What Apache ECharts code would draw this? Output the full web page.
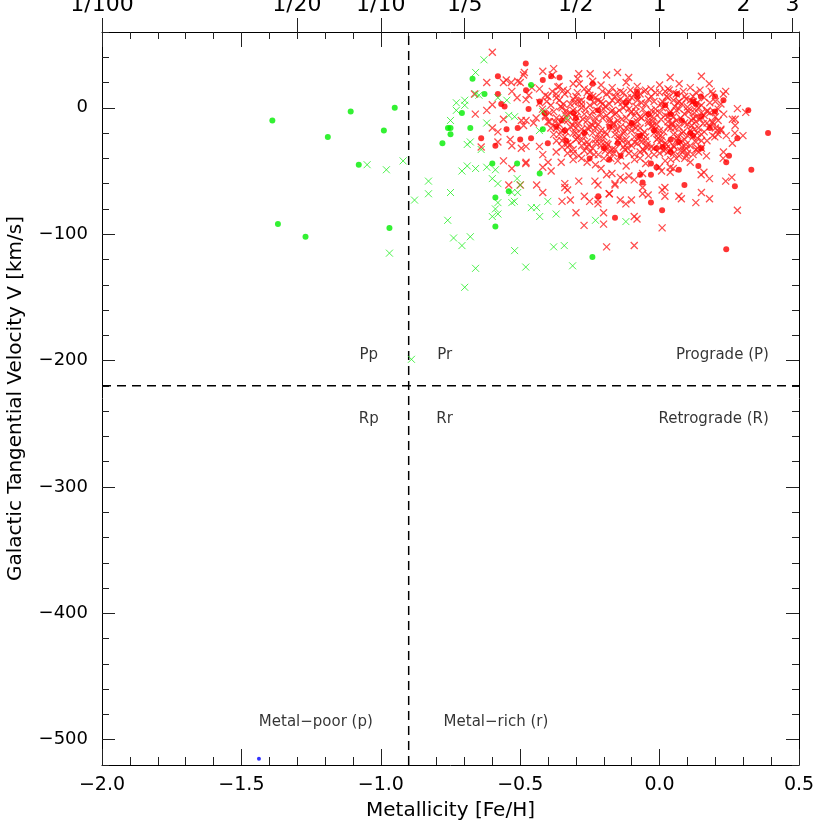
<!DOCTYPE html>
<html><head><meta charset="utf-8">
<script src="https://cdn.jsdelivr.net/npm/echarts@6/dist/echarts.min.js"></script>
<style>html,body{margin:0;padding:0;background:#fff}#c{width:830px;height:830px}</style>
</head><body><div id="c"></div>
<script>
// ---------- data ----------
const xMin = -2.0, xMax = 0.5;
const yMin = -520, yMax = 60;
const yMajorTicks = [-500, -400, -300, -200, -100, 0];
const topFractions = [0.01, 0.05, 0.1, 0.2, 0.5, 1, 2, 3];
const topLabels = ['1/100', '1/20', '1/10', '1/5', '1/2', '1', '2', '3'];
const divideFeH = -0.9;
const divideV = -220;

const greenDots = [
  [-1.389,-10],[-1.108,-3],[-0.950,0],[-1.190,-23],[-0.989,-18],[-1.079,-45],[-1.369,-92],[-1.270,-102],[-0.969,-95],
  [-0.671,23],[-0.628,11],[-0.709,-4],[-0.759,-16],[-0.750,-16],[-0.750,-21],[-0.679,-16],[-0.779,-28],[-0.461,18],
  [-0.419,-17],[-0.600,-44],[-0.511,-44],[-0.430,-52],[-0.541,-66],[-0.589,-71],[-0.589,-94],[-0.241,-118]
];
const greenCrosses = [
  [-1.049,-45],[-0.980,-49],[-0.920,-42],[-0.829,-58],[-0.829,-68],[-0.879,-73],[-0.760,-89],[-0.969,-115],[-0.890,-199],
  [-0.630,38],[-0.660,28],[-0.729,4],[-0.699,6],[-0.699,2],[-0.729,-2],[-0.750,-10],[-0.660,11],[-0.648,10],[-0.580,8],
  [-0.548,6],[-0.620,-12],[-0.541,-6],[-0.520,-7],[-0.419,-3],[-0.333,-8],[-0.431,-18],[-0.679,-27],[-0.690,-29],[-0.640,-33],
  [-0.709,-50],[-0.690,-46],[-0.660,-48],[-0.620,-47],[-0.589,-49],[-0.600,-56],[-0.580,-60],[-0.511,-56],[-0.500,-61],
  [-0.530,-67],[-0.509,-67],[-0.750,-67],[-0.580,-75],[-0.530,-75],[-0.521,-74],[-0.589,-80],[-0.580,-84],[-0.600,-86],
  [-0.460,-79],[-0.441,-79],[-0.401,-74],[-0.371,-84],[-0.430,-86],[-0.739,-103],[-0.709,-109],[-0.679,-102],[-0.520,-113],
  [-0.380,-110],[-0.342,-109],[-0.660,-127],[-0.480,-126],[-0.312,-125],[-0.699,-142],[-0.230,-89],[-0.121,-90]
];
const redDots = [
  [-0.480,35],[-0.580,25],[-0.389,25],[-0.359,24],[-0.419,22],[-0.240,19],[-0.479,14],[-0.580,11],[-0.568,3],[-0.556,1],
  [-0.430,5],[-0.470,-1],[-0.413,-4],[-0.509,-16],[-0.549,-17],[-0.640,-24],[-0.589,-30],[-0.461,-24],[-0.500,-25],[-0.401,-28],
  [-0.351,-10],[-0.371,-15],[-0.335,-26],[-0.309,-4],[-0.081,13],[0.064,11],[0.120,5],[0.148,9],[0.199,9],[0.229,6],
  [0.199,-3],[0.150,-7],[0.318,-2],[0.389,-20],[0.279,-24],[0.249,-38],[0.239,-43],[-0.031,-44],[0.010,-31],[0.040,-5],
  [0.070,-27],[0.150,-32],[0.120,-22],[0.180,-16],[-0.011,-32],[-0.011,-47],[0.139,-46],[0.069,-49],[0.329,-49],[0.270,-62],
  [-0.061,-59],[-0.031,-53],[-0.070,-53],[0.089,-61],[-0.031,-75],[0.009,-81],[-0.160,-87],[0.239,-112],[-0.220,-70],[-0.251,-40],
  [-0.181,-41],[0.039,-35],
  [-0.30,-8],[-0.27,-20],[-0.22,-2],[-0.18,-15],[-0.15,-28],[-0.12,4],[-0.10,-12],[-0.07,-22],[-0.04,-5],[-0.02,-18],
  [0.02,2],[0.04,-25],[0.08,-10],[-0.25,8],[-0.20,-32],[-0.08,9],[0.11,-20],[-0.34,-18],[0.13,3],[-0.14,-38]
];
const redCrosses = [
  // outskirts
  [-0.600,44],[-0.620,20],[-0.560,20],[-0.550,22],[-0.532,20],[-0.509,21],[-0.500,20],[-0.485,28],[-0.488,26],[-0.419,29],
  [-0.380,31],[-0.385,26],[-0.290,27],[-0.249,27],[-0.664,11],[-0.600,2.5],[-0.530,13],[-0.511,8],[-0.479,6.5],[-0.469,10],
  [-0.458,16],[-0.431,15],[-0.401,9],[-0.365,16.5],[-0.371,11],[-0.294,23],[-0.288,19],[-0.661,-5],[-0.620,-2],[-0.560,-9],
  [-0.496,-10],[-0.479,-10],[-0.488,-14],[-0.443,-8],[-0.452,-12],[-0.409,-7],[-0.395,-11],[-0.600,-16],[-0.580,-19],[-0.536,-25],
  [-0.580,-27],[-0.640,-31],[-0.530,-30],[-0.496,-32],[-0.479,-30.5],[-0.431,-30.5],[-0.419,-37],[-0.479,-43],[-0.371,-35],[-0.353,-43],
  [-0.190,26],[-0.151,28],[-0.111,24],[0.038,24],[0.150,25],[0.178,19],[-0.031,15],[0.237,13],[0.229,11],[0.279,-0.6],
  [0.261,-9],[0.271,-9],[0.271,-14],[0.207,-18],[0.219,-18],[0.270,-20],[0.299,-22],[0.239,-22],[0.309,-3.6],[0.261,-28],
  [0.229,-35],[0.228,-40],[0.168,-38],[0.198,-23],[0.189,-11],[0.171,-2],[0.100,0.6],[0.130,-7],[0.156,-12.5],[0.096,-38],
  [0.136,-32],[0.076,-34],[0.052,-31],
  [0.179,-56],[0.150,-67],[0.130,-75],[0.069,-70],[0.078,-72],[0.019,-63],[0.019,-70],[0.009,-65],[-0.041,-69],[-0.061,-68],
  [-0.061,-63],[-0.101,-73],[-0.141,-73],[-0.121,-76],[-0.201,-83],[-0.201,-92],[-0.091,-86],[-0.081,-88],[0.009,-95],[-0.190,-110],
  [-0.091,-109],[0.279,-81],[0.237,-58],[0.259,-55],[0.159,-51],[0.149,-53],[0.038,-51],[0.049,-48],[0.038,-47],[0.007,-50],
  [-0.001,-47],[-0.110,-54],[-0.130,-57],[-0.141,-55],[-0.181,-68],[-0.160,-61],[-0.160,-60],[-0.171,-52],[-0.190,-53],[-0.210,-48],
  [-0.091,-57],[-0.061,-52],
  [-0.560,-42],[-0.530,-48],[-0.480,-44],[-0.541,-61],[-0.500,-61],[-0.441,-61],[-0.419,-47],[-0.400,-43],[-0.389,-50],[-0.419,-67],
  [-0.350,-74],[-0.320,-73],[-0.340,-60],[-0.340,-63],[-0.330,-65],[-0.290,-58],[-0.270,-70],[-0.251,-74],[-0.232,-58],[-0.221,-61],
  [-0.221,-73],[-0.221,-76],[-0.180,-68],[-0.271,-93],[-0.300,-83],[0.179,-72],
  // core
  [-0.36,17],[-0.31,19],[-0.27,15],[-0.21,18],[-0.17,16],[-0.12,20],[-0.08,17],[-0.05,14],[0.00,18],[0.03,15],[0.07,19],[0.11,16],
  [-0.24,21],[-0.14,13],[0.05,12],[-0.33,13],
  [-0.41,10],[-0.37,8],[-0.34,11],[-0.30,9],[-0.26,12],[-0.23,8],[-0.19,11],[-0.16,9],[-0.13,12],[-0.10,8],[-0.07,11],[-0.03,9],
  [0.00,12],[0.03,8],[0.06,11],[0.09,9],[0.13,12],[0.16,8],[0.19,11],[-0.28,6],[-0.21,5],[-0.11,5],[0.01,5],[0.11,6],
  [-0.43,4],[-0.39,2],[-0.36,6],[-0.32,3],[-0.29,5],[-0.25,2],[-0.22,6],[-0.18,3],[-0.15,5],[-0.12,2],[-0.08,6],[-0.05,3],
  [-0.02,5],[0.02,2],[0.05,6],[0.08,3],[0.12,5],[0.15,2],[0.18,4],[0.22,3],
  [-0.42,-1],[-0.38,-3],[-0.35,0],[-0.31,-2],[-0.28,0],[-0.24,-3],[-0.20,-1],[-0.17,-2],[-0.13,0],[-0.10,-3],[-0.06,-1],[-0.03,-2],
  [0.01,0],[0.04,-3],[0.07,-1],[0.10,-2],[0.14,0],[0.17,-3],[0.21,-1],
  [-0.41,-6],[-0.37,-8],[-0.34,-5],[-0.30,-7],[-0.27,-5],[-0.23,-8],[-0.19,-6],[-0.16,-5],[-0.12,-8],[-0.09,-6],[-0.05,-5],[-0.02,-8],
  [0.02,-6],[0.05,-7],[0.09,-5],[0.12,-8],[0.16,-6],[0.20,-7],[0.23,-5],
  [-0.40,-11],[-0.36,-13],[-0.33,-10],[-0.29,-12],[-0.26,-10],[-0.22,-13],[-0.18,-11],[-0.15,-10],[-0.11,-13],[-0.08,-11],[-0.04,-10],
  [-0.01,-13],[0.03,-11],[0.06,-10],[0.10,-13],[0.13,-11],[0.17,-12],[0.21,-10],
  [-0.39,-16],[-0.35,-18],[-0.32,-15],[-0.28,-17],[-0.25,-15],[-0.21,-18],[-0.17,-16],[-0.14,-15],[-0.10,-18],[-0.07,-16],[-0.03,-15],
  [0.00,-18],[0.04,-16],[0.07,-15],[0.11,-18],[0.14,-16],[0.18,-15],[0.22,-17],
  [-0.38,-21],[-0.34,-23],[-0.31,-20],[-0.27,-22],[-0.24,-20],[-0.20,-23],[-0.16,-21],[-0.13,-20],[-0.09,-23],[-0.06,-21],[-0.02,-20],
  [0.01,-23],[0.05,-21],[0.08,-20],[0.12,-23],[0.15,-21],[0.19,-22],
  [-0.37,-26],[-0.33,-28],[-0.30,-25],[-0.26,-27],[-0.23,-25],[-0.19,-28],[-0.15,-26],[-0.12,-25],[-0.08,-28],[-0.05,-26],[-0.01,-25],
  [0.02,-28],[0.06,-26],[0.09,-25],[0.13,-27],[0.17,-26],
  [-0.35,-31],[-0.31,-33],[-0.28,-30],[-0.24,-32],[-0.21,-30],[-0.17,-33],[-0.13,-31],[-0.10,-30],[-0.06,-33],[-0.03,-31],[0.01,-30],
  [0.04,-33],[0.08,-31],[0.11,-30],[0.15,-32],
  [-0.33,-36],[-0.29,-38],[-0.25,-35],[-0.22,-37],[-0.18,-35],[-0.14,-38],[-0.11,-36],[-0.07,-35],[-0.04,-38],[0.00,-36],[0.03,-35],
  [0.07,-38],[0.10,-36],[0.14,-35],
  [-0.31,-41],[-0.26,-43],[-0.20,-40],[-0.15,-42],[-0.09,-41],[-0.05,-44],[0.02,-42],[0.06,-40],[0.11,-43],[-0.23,-45],[-0.12,-46],
  // densest centre
  [-0.31,7],[-0.24,9],[-0.17,6],[-0.115,8],[-0.04,7],[0.025,9],[0.095,7],
  [-0.355,1],[-0.265,-1],[-0.195,1],[-0.145,-2],[-0.085,1],[-0.015,-1],[0.055,1],[0.125,-1],
  [-0.32,-4],[-0.25,-6],[-0.175,-3],[-0.105,-4],[-0.035,-6],[0.035,-4],[0.105,-3],[0.18,-4],
  [-0.345,-9],[-0.275,-9],[-0.205,-8],[-0.135,-9],[-0.065,-8],[0.005,-9],[0.075,-8],[0.145,-9],
  [-0.31,-14],[-0.24,-14],[-0.165,-13],[-0.095,-14],[-0.025,-14],[0.045,-13],[0.115,-14],
  [-0.335,-19],[-0.265,-19],[-0.195,-19],[-0.125,-19],[-0.055,-19],[0.015,-19],[0.085,-19],[0.16,-19],
  [-0.295,-24],[-0.215,-24],[-0.145,-24],[-0.075,-24],[-0.005,-24],[0.065,-24],[0.135,-24],
  [-0.32,-29],[-0.255,-29],[-0.185,-29],[-0.115,-28],[-0.045,-29],[0.025,-29],[0.095,-29],
  [-0.27,-34],[-0.195,-34],[-0.125,-33],[-0.055,-34],[0.015,-34],[0.085,-34],
  [-0.385,13],[-0.345,14],[-0.295,12],[-0.255,14],[-0.205,13],[-0.155,12],[-0.105,14],[-0.055,13],[-0.015,12],[0.035,14],[0.085,13],
  [0.145,14],[0.185,13],
  [-0.405,5],[-0.345,3],[-0.305,4],[-0.235,4],[-0.205,3],[-0.135,4],[-0.065,4],[0.005,3],[0.065,4],[0.135,4],[0.20,5],
  [-0.395,-4],[-0.335,-2],[-0.295,-3],[-0.225,-2],[-0.155,-4],[-0.085,-3],[-0.015,-4],[0.06,-2],[0.125,-4],[0.195,-3],
  [-0.375,-11],[-0.305,-11],[-0.235,-11],[-0.165,-12],[-0.095,-12],[-0.025,-11],[0.045,-12],[0.115,-10],[0.19,-12],
  [-0.37,-16],[-0.30,-16],[-0.23,-16],[-0.155,-17],[-0.085,-16],[-0.015,-17],[0.055,-16],[0.125,-17],[0.20,-16],
  [-0.36,-21],[-0.29,-22],[-0.22,-21],[-0.145,-22],[-0.075,-22],[-0.005,-21],[0.065,-22],[0.135,-20],[0.21,-21],
  [-0.35,-26],[-0.28,-26],[-0.21,-27],[-0.135,-26],[-0.065,-27],[0.005,-26],[0.075,-27],[0.15,-26],
  [-0.33,-31],[-0.26,-31],[-0.19,-31],[-0.115,-32],[-0.045,-31],[0.025,-32],[0.095,-32],[0.13,-33],
  [-0.31,-36],[-0.235,-37],[-0.165,-36],[-0.09,-37],[-0.02,-37],[0.05,-36],[0.12,-37],
  [-0.28,-40],[-0.175,-40],[-0.07,-40],[0.04,-41],[0.09,-40],
  [-0.28,3],[-0.21,-5],[-0.14,7],[-0.07,-7],[0.00,-4],[0.07,5],[-0.26,-16],[-0.19,-21],[-0.12,-16],[-0.05,-23],
  [0.03,-15],[0.10,-22],[-0.23,-28],[-0.16,-33],[-0.09,-27],[-0.02,-32],[0.05,-30],[-0.30,-20],[-0.33,-5],[-0.18,-9],
  [-0.11,-1],[-0.04,-12],[0.03,-7],[0.09,-12],[0.15,-4],[-0.25,10],[-0.18,12],[-0.09,11],[0.02,13],[0.12,9]
];
const blueDots = [[-1.437,-515]];

const annotationTexts = ['Pp','Pr','Prograde (P)','Rp','Rr','Retrograde (R)','Metal\u2212poor (p)','Metal\u2212rich (r)'];
const annotationX = [-1.043,-0.771,0.392,-1.043,-0.771,0.392,-1.233,-0.587];
const annotationY = [-196,-196,-196,-246,-246,-246,-486,-486];
const annotationAlign = ['center','center','right','center','center','right','center','center'];

// ---------- chart ----------
const FONT = 'DejaVu Sans';
const INK = '#000';
const TICK = '#222';
const crossPath = 'path://M0,0L10,10M10,0L0,10';
const minus = s => String(s).replace('-', '\u2212');
const topVals = topFractions.map(f => Math.log10(f));
const topFmt = v => {
  let best = 0;
  topVals.forEach((t, i) => { if (Math.abs(t - v) < Math.abs(topVals[best] - v)) best = i; });
  return topLabels[best];
};

const chart = echarts.init(document.getElementById('c'), null, {renderer: 'canvas'});
const frameLine = {show: true, onZero: false, lineStyle: {color: INK, width: 1}};
const noLine = {show: false, onZero: false};

const option = {
  animation: false,
  backgroundColor: '#fff',
  grid: {left: 102, right: 31, top: 32, bottom: 65, outerBoundsMode: 'none', containLabel: false},
  xAxis: [
    {
      type: 'value', position: 'bottom', min: xMin, max: xMax, interval: 0.5,
      axisLine: frameLine,
      axisTick: {show: true, inside: true, length: 16, lineStyle: {color: TICK}},
      minorTick: {show: true, splitNumber: 5, length: 8, lineStyle: {color: TICK}},
      splitLine: {show: false},
      axisLabel: {fontFamily: FONT, fontSize: 19, color: INK, margin: 11, formatter: v => minus(v.toFixed(1))},
      name: 'Metallicity [Fe/H]', nameLocation: 'middle', nameGap: 36,
      nameTextStyle: {fontFamily: FONT, fontSize: 20, color: INK}
    },
    {
      type: 'value', position: 'top', min: xMin, max: xMax, interval: 0.5,
      axisLine: frameLine,
      axisTick: {show: true, inside: true, length: 15, lineStyle: {color: TICK}},
      minorTick: {show: true, splitNumber: 5, length: 7, lineStyle: {color: TICK}},
      splitLine: {show: false}, axisLabel: {show: false}
    },
    {
      type: 'value', position: 'top', min: xMin, max: xMax,
      axisLine: noLine,
      axisTick: {show: true, inside: false, length: 14, customValues: topVals, lineStyle: {color: TICK}},
      splitLine: {show: false},
      axisLabel: {show: true, customValues: topVals, formatter: topFmt, fontFamily: FONT, fontSize: 22, color: INK, margin: 16}
    }
  ],
  yAxis: [
    {
      type: 'value', position: 'left', min: yMin, max: yMax, interval: 20,
      axisLine: frameLine,
      axisTick: {show: true, inside: true, length: 7, lineStyle: {color: TICK}},
      splitLine: {show: false},
      axisLabel: {show: true, customValues: yMajorTicks, fontFamily: FONT, fontSize: 18, color: INK, margin: 14,
                  formatter: v => v === 0 ? '0' : minus(v)},
      name: 'Galactic Tangential Velocity V [km/s]', nameLocation: 'middle', nameGap: 76,
      nameTextStyle: {fontFamily: FONT, fontSize: 20, color: INK}
    },
    {
      type: 'value', position: 'left', min: yMin, max: yMax,
      axisLine: noLine,
      axisTick: {show: true, inside: true, length: 13, customValues: yMajorTicks, lineStyle: {color: TICK}},
      splitLine: {show: false}, axisLabel: {show: false}
    },
    {
      type: 'value', position: 'right', min: yMin, max: yMax, interval: 20,
      axisLine: frameLine,
      axisTick: {show: true, inside: true, length: 7, lineStyle: {color: TICK}},
      splitLine: {show: false}, axisLabel: {show: false}
    },
    {
      type: 'value', position: 'right', min: yMin, max: yMax,
      axisLine: noLine,
      axisTick: {show: true, inside: true, length: 13, customValues: yMajorTicks, lineStyle: {color: TICK}},
      splitLine: {show: false}, axisLabel: {show: false}
    }
  ],
  series: [
    {
      type: 'line', xAxisIndex: 0, yAxisIndex: 0, silent: true, symbol: 'none',
      data: [[divideFeH, yMin], [divideFeH, yMax]],
      lineStyle: {color: INK, width: 1.5, type: [9, 6]}, z: 1
    },
    {
      type: 'line', xAxisIndex: 0, yAxisIndex: 0, silent: true, symbol: 'none',
      data: [[xMin, divideV], [xMax, divideV]],
      lineStyle: {color: INK, width: 1.5, type: [9, 6]}, z: 1
    },
    {
      type: 'scatter', xAxisIndex: 0, yAxisIndex: 0, silent: true, data: redCrosses,
      symbol: crossPath, symbolSize: 7,
      itemStyle: {color: 'rgba(0,0,0,0)', borderColor: '#ff2020', borderWidth: 1.3}, z: 2
    },
    {
      type: 'scatter', xAxisIndex: 0, yAxisIndex: 0, silent: true, data: redDots,
      symbol: 'circle', symbolSize: 6, itemStyle: {color: '#ff0000'}, z: 3
    },
    {
      type: 'scatter', xAxisIndex: 0, yAxisIndex: 0, silent: true, data: greenCrosses,
      symbol: crossPath, symbolSize: 7,
      itemStyle: {color: 'rgba(0,0,0,0)', borderColor: '#22ee22', borderWidth: 1}, z: 4
    },
    {
      type: 'scatter', xAxisIndex: 0, yAxisIndex: 0, silent: true, data: greenDots,
      symbol: 'circle', symbolSize: 6, itemStyle: {color: '#00ee00'}, z: 5
    },
    {
      type: 'scatter', xAxisIndex: 0, yAxisIndex: 0, silent: true, data: blueDots,
      symbol: 'circle', symbolSize: 4, itemStyle: {color: '#0000ff'}, z: 5
    },
    {
      type: 'scatter', xAxisIndex: 0, yAxisIndex: 0, silent: true, symbolSize: 0,
      data: annotationTexts.map((t, i) => ({
        value: [annotationX[i], annotationY[i]],
        label: {formatter: t, align: annotationAlign[i]}
      })),
      label: {show: true, position: 'inside', fontFamily: FONT, fontSize: 15, color: INK},
      z: 6
    }
  ]
};
chart.setOption(option);
</script>
</body></html>
